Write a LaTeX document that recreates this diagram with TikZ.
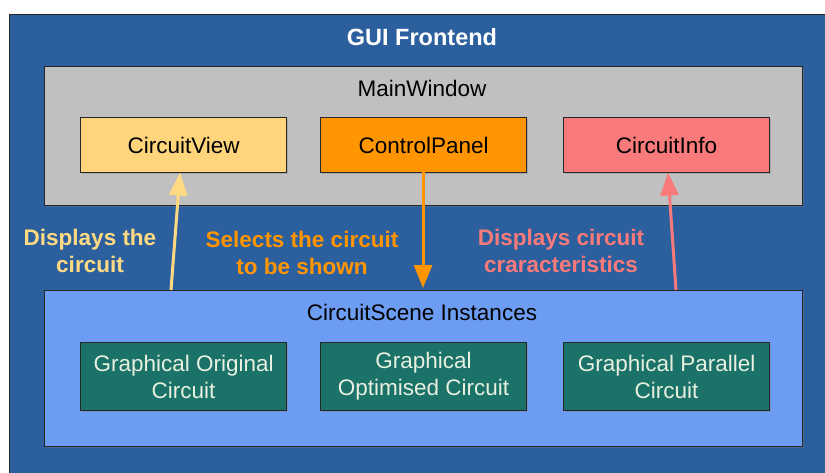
\documentclass[tikz,border=0pt]{standalone}
\usepackage{fontspec}
\setmainfont{Liberation Sans}
\usetikzlibrary{arrows.meta,shadows}

\definecolor{frontblue}{HTML}{2C5F9E}
\definecolor{wingray}{HTML}{C0C0C0}
\definecolor{viewyellow}{HTML}{FFD57C}
\definecolor{panelorange}{HTML}{FF9500}
\definecolor{infored}{HTML}{F87A7A}
\definecolor{sceneblue}{HTML}{6D9DF2}
\definecolor{circgreen}{HTML}{1A7268}
\definecolor{circtext}{HTML}{E8F0E0}
\definecolor{labelyellow}{HTML}{FFDA82}

\begin{document}
\begin{tikzpicture}[x=1pt,y=-1pt,
  font=\fontsize{22.5}{27}\selectfont,
  panel/.style={draw=black!85, line width=1.2pt, rectangle, anchor=north west,
    inner sep=0pt, drop shadow={shadow xshift=1pt, shadow yshift=-1.5pt, opacity=0.35}},
  comp/.style={panel, minimum width=206pt, text=black!90},
  circbox/.style={comp, minimum height=68pt, fill=circgreen, text=circtext, align=center},
  title/.style={inner sep=0pt},
  flow/.style={line width=3pt, -{Triangle[length=23pt, width=18pt]}},
  note/.style={font=\fontsize{22.5}{27}\selectfont\bfseries, align=center, inner sep=0pt}
]
\useasboundingbox (0,0) rectangle (825,472);

% outer frame
\node[panel, fill=frontblue, minimum width=840pt, minimum height=480pt] (gui) at (9,14) {};
\node[title, text=white, font=\fontsize{23.5}{27}\selectfont\bfseries] (guititle) at (422,37) {GUI Frontend};

% main window and its widgets
\node[panel, fill=wingray, minimum width=758pt, minimum height=139pt] (main) at (44,66) {};
\node[title] (maintitle) at (422,88) {MainWindow};
\node[comp, fill=viewyellow, minimum height=55pt] (cv) at (80,117) {};
\node[title] at (cv.center) {CircuitView};
\node[comp, fill=panelorange, minimum height=55pt] (cp) at (320,117) {};
\node[title] at (cp.center) {ControlPanel};
\node[comp, fill=infored, minimum height=55pt] (ci) at (563,117) {};
\node[title] at (ci.center) {CircuitInfo};

% scene instances
\node[panel, fill=sceneblue, minimum width=758pt, minimum height=156pt] (scene) at (44,290) {};
\node[title] (scenetitle) at (422,312) {CircuitScene Instances};
\node[circbox] (g1) at (80,342) {Graphical Original\\Circuit};
\node[circbox] (g2) at (320,342) {Graphical\\Optimised Circuit};
\node[circbox] (g3) at (563,342) {Graphical Parallel\\Circuit};

% connectors
\coordinate (yfoot) at (171,290);
\coordinate (yhead) at (180,172.5);
\coordinate (ofoot) at (423,288);
\coordinate (ohead) at (423,171.5);
\coordinate (pfoot) at (676,290);
\coordinate (phead) at (668,172.5);
\draw[flow, labelyellow] (yfoot) -- (yhead);
\draw[flow, panelorange] (ohead) -- (ofoot);
\draw[flow, infored] (pfoot) -- (phead);

% connector labels
\node[note, text=labelyellow] (l1) at (90,251) {Displays the\\circuit};
\node[note, text=panelorange] (l2) at (302,253) {Selects the circuit\\to be shown};
\node[note, text=infored] (l3) at (561,251) {Displays circuit\\craracteristics};
\end{tikzpicture}
\end{document}
